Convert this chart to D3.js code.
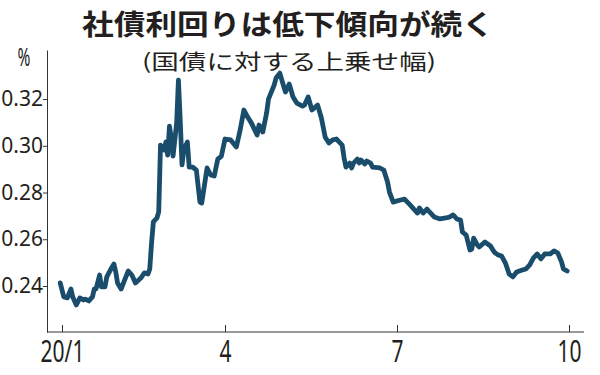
<!DOCTYPE html>
<html>
<head>
<meta charset="utf-8">
<script src="https://cdn.jsdelivr.net/npm/d3@7"></script>
<style>
  body { margin: 0; background: #fff; }
  svg { display: block; }
  text { fill: #231f20; }
</style>
</head>
<body>
<div id="chart"></div>
<script>
// chart text
var titleText = "社債利回りは低下傾向が続く";
var subtitleText = "(国債に対する上乗せ幅)";
var unitText = "%";

// x axis: months, y axis: spread (%)
var xTickDates = ["2020-01-01", "2020-04-01", "2020-07-01", "2020-10-01"];
var xTickLabels = ["20/1", "4", "7", "10"];
var yTicks = [0.24, 0.26, 0.28, 0.30, 0.32];

// series
var dates = [
  "2019-12-31", "2020-01-02", "2020-01-04", "2020-01-06", "2020-01-07", "2020-01-09", "2020-01-11", "2020-01-13",
  "2020-01-14", "2020-01-16", "2020-01-18", "2020-01-19", "2020-01-20", "2020-01-22", "2020-01-23", "2020-01-25",
  "2020-01-26", "2020-01-28", "2020-01-30", "2020-01-31", "2020-02-01", "2020-02-03", "2020-02-05", "2020-02-07",
  "2020-02-09", "2020-02-11", "2020-02-14", "2020-02-16", "2020-02-18", "2020-02-19", "2020-02-20", "2020-02-21",
  "2020-02-23", "2020-02-24", "2020-02-25", "2020-02-27", "2020-02-28", "2020-02-29", "2020-03-01", "2020-03-02",
  "2020-03-03", "2020-03-05", "2020-03-06", "2020-03-07", "2020-03-08", "2020-03-09", "2020-03-11", "2020-03-12",
  "2020-03-14", "2020-03-16", "2020-03-18", "2020-03-19", "2020-03-22", "2020-03-24", "2020-03-26", "2020-03-28",
  "2020-03-30", "2020-04-01", "2020-04-04", "2020-04-07", "2020-04-09", "2020-04-11", "2020-04-13", "2020-04-15",
  "2020-04-16", "2020-04-18", "2020-04-19", "2020-04-21", "2020-04-23", "2020-04-24", "2020-04-27", "2020-04-28",
  "2020-04-30", "2020-05-02", "2020-05-03", "2020-05-05", "2020-05-07", "2020-05-09", "2020-05-12", "2020-05-13",
  "2020-05-15", "2020-05-17", "2020-05-20", "2020-05-22", "2020-05-24", "2020-05-26", "2020-05-28", "2020-05-30",
  "2020-06-02", "2020-06-03", "2020-06-04", "2020-06-06", "2020-06-07", "2020-06-08", "2020-06-10", "2020-06-11",
  "2020-06-12", "2020-06-14", "2020-06-15", "2020-06-17", "2020-06-18", "2020-06-22", "2020-06-24", "2020-06-26",
  "2020-06-27", "2020-06-29", "2020-07-01", "2020-07-03", "2020-07-05", "2020-07-08", "2020-07-10", "2020-07-12",
  "2020-07-13", "2020-07-15", "2020-07-17", "2020-07-19", "2020-07-21", "2020-07-24", "2020-07-27", "2020-07-29",
  "2020-07-31", "2020-08-02", "2020-08-04", "2020-08-05", "2020-08-07", "2020-08-09", "2020-08-10", "2020-08-11",
  "2020-08-13", "2020-08-14", "2020-08-17", "2020-08-20", "2020-08-22", "2020-08-24", "2020-08-26", "2020-08-28",
  "2020-08-30", "2020-09-01", "2020-09-03", "2020-09-06", "2020-09-08", "2020-09-10", "2020-09-12", "2020-09-14",
  "2020-09-16", "2020-09-18", "2020-09-21", "2020-09-23", "2020-09-25", "2020-09-27", "2020-09-28", "2020-09-30"
];
var spreads = [
  0.2413, 0.2353, 0.2349, 0.2387, 0.2353, 0.2319, 0.2349, 0.2340,
  0.2344, 0.2336, 0.2353, 0.2387, 0.2387, 0.2447, 0.2396, 0.2396,
  0.2439, 0.2468, 0.2494, 0.2460, 0.2413, 0.2387, 0.2426, 0.2464,
  0.2447, 0.2413, 0.2434, 0.2456, 0.2451, 0.2473, 0.2584, 0.2674,
  0.2691, 0.2717, 0.3003, 0.2982, 0.3016, 0.2960, 0.3084, 0.3033,
  0.2956, 0.3097, 0.3281, 0.3110, 0.2918, 0.2982, 0.3016, 0.2909,
  0.2909, 0.2896, 0.2759, 0.2755, 0.2905, 0.2875, 0.2871, 0.2943,
  0.2956, 0.3029, 0.3025, 0.2995, 0.3067, 0.3153, 0.3123, 0.3097,
  0.3080, 0.3046, 0.3089, 0.3059, 0.3140, 0.3200, 0.3260, 0.3290,
  0.3311, 0.3256, 0.3230, 0.3264, 0.3209, 0.3183, 0.3170, 0.3174,
  0.3209, 0.3153, 0.3174, 0.3119, 0.3037, 0.3012, 0.3025, 0.3029,
  0.3003, 0.2948, 0.2909, 0.2926, 0.2905, 0.2926, 0.2943, 0.2926,
  0.2939, 0.2922, 0.2935, 0.2926, 0.2909, 0.2905, 0.2896, 0.2845,
  0.2802, 0.2759, 0.2764, 0.2768, 0.2772, 0.2747, 0.2729, 0.2712,
  0.2734, 0.2712, 0.2729, 0.2712, 0.2695, 0.2687, 0.2691, 0.2695,
  0.2704, 0.2687, 0.2682, 0.2631, 0.2618, 0.2554, 0.2558, 0.2605,
  0.2575, 0.2567, 0.2588, 0.2571, 0.2545, 0.2533, 0.2528, 0.2498,
  0.2451, 0.2439, 0.2460, 0.2468, 0.2473, 0.2490, 0.2520, 0.2537,
  0.2516, 0.2537, 0.2537, 0.2550, 0.2541, 0.2503, 0.2473, 0.2464
];

var svgWidth = 600;
var svgHeight = 375;

// plot area edges
var plotLeft = 47, plotRight = 584, plotTop = 50, plotBottom = 332;

var parseDate = d3.timeParse("%Y-%m-%d");

var data = dates.map(function(d, i) {
  return { date: parseDate(d), value: spreads[i] };
});
var tickDates = xTickDates.map(parseDate);

var svg = d3.select("#chart")
  .append("svg")
  .attr("width", svgWidth)
  .attr("height", svgHeight);

// month ticks are not evenly spaced in the source, so map them piecewise
var xScale = d3.scaleTime()
  .domain(tickDates)
  .range([62, 225, 397, 569]);

var yScale = d3.scaleLinear()
  .domain([0.2203, 0.341])
  .range([plotBottom, plotTop]);

// title + subtitle
svg.append("text")
  .attr("x", 288)
  .attr("y", 35)
  .attr("text-anchor", "middle")
  .attr("font-family", "'Noto Sans CJK JP', sans-serif")
  .attr("font-weight", "bold")
  .attr("font-size", 28)
  .attr("textLength", 412)
  .attr("lengthAdjust", "spacingAndGlyphs")
  .text(titleText);

svg.append("text")
  .attr("x", 289)
  .attr("y", 69)
  .attr("text-anchor", "middle")
  .attr("font-family", "'Noto Sans CJK JP', sans-serif")
  .attr("font-size", 21)
  .attr("textLength", 294)
  .attr("lengthAdjust", "spacingAndGlyphs")
  .text(subtitleText);

svg.append("text")
  .attr("x", 24)
  .attr("y", 66)
  .attr("text-anchor", "middle")
  .attr("font-family", "'Noto Sans', sans-serif")
  .attr("font-size", 25)
  .attr("transform", "translate(24,0) scale(0.62,1) translate(-24,0)")
  .text(unitText);

// y axis
var yAxis = svg.append("g")
  .attr("transform", `translate(${plotLeft},0)`)
  .call(d3.axisLeft(yScale)
    .tickValues(yTicks)
    .tickSize(4)
    .tickSizeOuter(0)
    .tickPadding(0)
    .tickFormat(d3.format(".2f")));

yAxis.selectAll("text")
  .attr("font-family", "'Noto Sans', sans-serif")
  .attr("font-size", 21)
  .attr("fill", "#231f20");

// x axis, ticks point up into the plot
var xAxis = svg.append("g")
  .attr("transform", `translate(0,${plotBottom})`)
  .call(d3.axisBottom(xScale)
    .tickValues(tickDates)
    .tickSize(-7)
    .tickFormat(function(d, i) { return xTickLabels[i]; }));

xAxis.select(".domain").remove();
xAxis.append("line")
  .attr("x1", plotLeft)
  .attr("x2", plotRight)
  .attr("stroke", "#333");

xAxis.selectAll("text")
  .attr("y", 30)
  .attr("dy", null)
  .attr("font-family", "'Noto Sans', sans-serif")
  .attr("font-size", 30)
  .attr("fill", "#231f20")
  .attr("transform", "scale(0.7,1)");

svg.selectAll(".domain, .tick line").attr("stroke", "#333");

// the series line
var line = d3.line()
  .x(d => xScale(d.date))
  .y(d => yScale(d.value));

svg.append("path")
  .datum(data)
  .attr("d", line)
  .attr("fill", "none")
  .attr("stroke", "#1a4d6c")
  .attr("stroke-width", 4.8)
  .attr("stroke-linejoin", "round")
  .attr("stroke-linecap", "round");
</script>
</body>
</html>
